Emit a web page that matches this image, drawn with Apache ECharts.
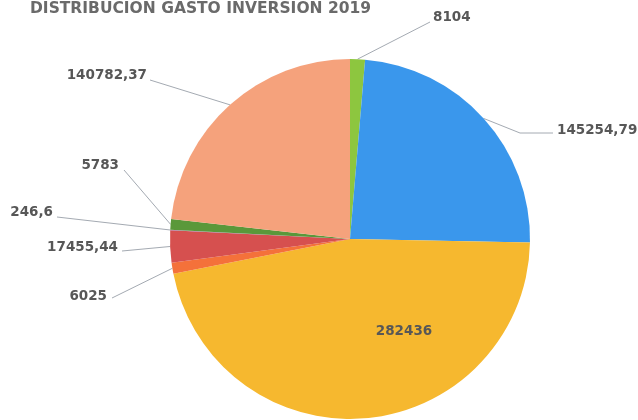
<!DOCTYPE html>
<html>
<head>
<meta charset="utf-8">
<script src="https://cdn.jsdelivr.net/npm/echarts@6/dist/echarts.min.js"></script>
<style>
html,body{margin:0;padding:0;background:#fff;}
#chart{width:638px;height:420px;}
</style>
</head>
<body>
<div id="chart"></div>
<script>
var titleText = 'DISTRIBUCION GASTO INVERSION 2019';
var values = [8104, 145254.79, 282436, 6025, 17455.44, 246.6, 5783, 140782.37];
var colors = ['#8dc63f', '#3a97ec', '#f6b82f', '#f4713a', '#d6504f', '#9b6fb0', '#5a983a', '#f5a27c'];

// label layout (positions of the texts, not data)
var labelX = [433, 557, 404, 107, 118, 53, 119, 147];
var labelY = [17, 130, 331, 296, 247, 212, 165, 75];
var labelAlign = ['left', 'left', 'center', 'right', 'right', 'right', 'right', 'right'];
var lineEnd = [[430, 22], [553, 133], null, [112, 298], [122, 251], [57, 217], [124, 170], [150, 80]];
var lineBend = [null, [520, 133], null, null, null, null, null, null];

function fmt(v) { return String(v).replace('.', ','); }

var chart = echarts.init(document.getElementById('chart'));
chart.setOption({
  backgroundColor: '#ffffff',
  animation: false,
  title: {
    text: titleText,
    left: 25,
    top: -4,
    textStyle: { fontFamily: 'DejaVu Sans', fontSize: 15.5, fontWeight: 'bold', color: '#6a6a6a' }
  },
  series: [{
    type: 'pie',
    center: [350, 239],
    radius: [0, 180],
    startAngle: 90,
    clockwise: true,
    avoidLabelOverlap: false,
    data: values.map(function (v, i) {
      return {
        value: v,
        itemStyle: { color: colors[i] },
        label: i === 2 ? { position: 'inside' } : {},
        labelLine: { show: i !== 2 }
      };
    }),
    label: {
      show: true,
      formatter: function (p) { return fmt(p.value); },
      fontFamily: 'DejaVu Sans',
      fontSize: 13.5,
      fontWeight: 'bold',
      color: '#575757'
    },
    labelLine: {
      show: true,
      lineStyle: { color: '#a4aab2', width: 1 }
    },
    labelLayout: function (params) {
      var i = params.dataIndex;
      var res = {
        x: labelX[i],
        y: labelY[i],
        align: labelAlign[i],
        verticalAlign: 'middle'
      };
      if (lineEnd[i] && params.labelLinePoints) {
        var p0 = params.labelLinePoints[0];
        var mid = lineBend[i] || lineEnd[i];
        res.labelLinePoints = [p0, mid, lineEnd[i]];
      }
      return res;
    }
  }]
});
</script>
</body>
</html>
